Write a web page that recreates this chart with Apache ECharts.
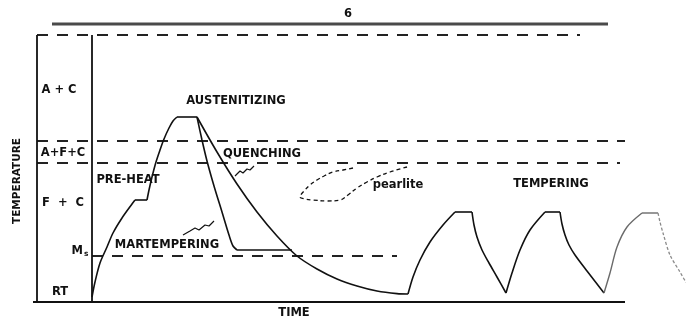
<!DOCTYPE html>
<html>
<head>
<meta charset="utf-8">
<script src="https://cdn.jsdelivr.net/npm/echarts@6/dist/echarts.min.js"></script>
<style>
  html, body { margin: 0; padding: 0; background: #fff; }
  #chart { width: 686px; height: 320px; }
</style>
</head>
<body>
<div id="chart"></div>
<script>
// Schematic heat-treatment cycle: time (arbitrary units) vs temperature (°C)
const timeRange = [-46, 297];
const tempRange = [-95, 1505];

// Phase-field boundaries and reference temperatures
const levelTop = 1330;    // upper dashed limit
const levelA3 = 800;      // A + C / A + F + C boundary
const levelA1 = 690;      // A + F + C / F + C boundary
const levelMs = 225;      // martensite start
const levelBase = -5;     // time axis
const levelBar = 1385;    // heading rule

// Horizontal extents of the frame and boundary lines (time units)
const boxLeft = -27.5;
const boxInner = 0;
const axisStart = -29.5;
const axisEnd = 266.5;
const barSpan = [-20, 258];
const topDashEnd = 244;
const a3End = 266.5;
const a1End = 264;
const msEnd = 152.5;

// Preheat then austenitize
const preheatRise = [
  [0, 20], [1.5, 95], [4, 190], [7.5, 270], [10.5, 340], [15, 415], [20, 485], [21.5, 505]
];
const preheatHold = [[21.5, 505], [27.5, 505]];
const austenitizeRise = [
  [27.5, 505], [28.5, 555], [30, 620], [32, 695], [34, 755], [36, 810],
  [38.5, 865], [40.5, 900], [42.5, 920]
];
const austenitizeHold = [[42.5, 920], [52.5, 920]];
// Direct quench to room temperature
const quenchCurve = [
  [52.5, 920], [62.5, 745], [72.5, 585], [82.5, 445], [92.5, 325], [102.5, 225],
  [112.5, 160], [122.5, 110], [132.5, 75], [142.5, 50], [152.5, 37], [158, 35]
];
// Martempering: quench into a hold just above Ms
const martemperDrop = [
  [52.5, 920], [55, 805], [57.5, 700], [61, 575], [65, 445], [68.5, 330],
  [70.5, 275], [72.5, 255]
];
const martemperHold = [[72.5, 255], [100, 255]];
// Tempering cycles: heat up, hold, cool down
const temperRise1 = [[158, 35], [160.5, 120], [164, 205], [169, 295], [175.5, 380], [181.5, 445]];
const temperHold1 = [[181.5, 445], [190, 445]];
const temperFall1 = [[190, 445], [191, 380], [192.5, 320], [195, 255], [198.5, 190], [202.5, 120], [207, 40]];
const temperRise2 = [[207, 40], [210, 140], [214, 255], [219, 355], [226.5, 445]];
const temperHold2 = [[226.5, 445], [234, 445]];
const temperFall2 = [[234, 445], [235, 385], [236.5, 330], [238.5, 280], [241.5, 230], [247.5, 150], [256, 40]];
const temperRise3 = [[256, 40], [259, 140], [262.5, 270], [267.5, 370], [275, 440]];
const temperHold3 = [[275, 440], [283, 440]];
const temperFall3 = [[283, 440], [284, 395], [285.5, 340], [289, 230], [294, 145], [297, 95], [301, 45]];
// Pearlite nose
const pearliteRegion = [
  [130.5, 665], [125.5, 655], [120.5, 645], [116, 625], [112.5, 605], [109, 580],
  [106.5, 555], [104, 520], [106.5, 510], [110.5, 505], [117.5, 500], [124, 505],
  [128, 530], [132.5, 565], [137.5, 595], [142.5, 620], [149, 645], [157.5, 670]
];
// Leader squiggles
const quenchLeader = [[71.5, 625], [74, 650], [75.5, 640], [77.5, 660], [79, 655], [81, 675]];
const martemperLeader = [[45.5, 330], [49, 350], [51.5, 365], [53.5, 355], [56.5, 380], [58.5, 375], [61, 400]];

// Text annotations: [time, temperature, text]
const annotations = [
  [128, 1435, '6'],
  [-16.5, 1055, 'A + C'],
  [-14.5, 740, 'A+F+C'],
  [-14.5, 490, 'F  +  C'],
  [-16, 45, 'RT'],
  [18, 605, 'PRE-HEAT'],
  [72, 1000, 'AUSTENITIZING'],
  [85, 735, 'QUENCHING'],
  [37.5, 280, 'MARTEMPERING'],
  [153, 580, 'pearlite'],
  [229.5, 585, 'TEMPERING'],
  [101, -60, 'TIME']
];
const msLabel = [-6, 250];
const yTitle = [-37.5, 600, 'TEMPERATURE'];

const INK = '#111';
const FONT = 'DejaVu Sans';

function path(data, style, smooth) {
  return {
    type: 'line', data: data, symbol: 'none', silent: true, animation: false,
    smooth: smooth || false,
    lineStyle: Object.assign({ color: INK, width: 1.6 }, style || {})
  };
}
const dash = { type: [11, 9], width: 1.8, color: '#222' };
const faint = { color: '#6a6a6a', width: 1.4 };

function textSeries(data, labelOpts) {
  return {
    type: 'scatter', symbolSize: 0, silent: true, animation: false,
    itemStyle: { opacity: 1 },
    data: data,
    label: Object.assign({
      show: true, position: [0, 0], align: 'center', verticalAlign: 'middle',
      color: INK, opacity: 1, textBorderWidth: 0,
      fontFamily: FONT, fontWeight: 'bold', fontSize: 11.5
    }, labelOpts)
  };
}

const series = [
  path([[barSpan[0], levelBar], [barSpan[1], levelBar]], { color: '#4a4a4a', width: 3 }),
  path([[boxLeft, levelTop], [topDashEnd, levelTop]], dash),
  path([[boxLeft, levelA3], [a3End, levelA3]], dash),
  path([[boxLeft, levelA1], [a1End, levelA1]], dash),
  path([[boxInner, levelMs], [msEnd, levelMs]], dash),
  path([[boxLeft, levelTop], [boxLeft, levelBase]], { width: 1.8 }),
  path([[boxInner, levelTop], [boxInner, levelBase]], { width: 1.8 }),
  path([[axisStart, levelBase], [axisEnd, levelBase]], { width: 2.2 }),
  path(preheatRise, null, 0.3),
  path(preheatHold),
  path(austenitizeRise, null, 0.3),
  path(austenitizeHold),
  path(quenchCurve, null, 0.3),
  path(martemperDrop, null, 0.3),
  path(martemperHold),
  path(temperRise1, null, 0.3), path(temperHold1), path(temperFall1, null, 0.3),
  path(temperRise2, null, 0.3), path(temperHold2), path(temperFall2, null, 0.3),
  path(temperRise3, faint, 0.3), path(temperHold3, faint),
  path(temperFall3, { color: '#8a8a8a', width: 1.3, type: [3, 2] }, 0.3),
  path(pearliteRegion, { type: [4, 3], width: 1.3 }, 0.4),
  path(quenchLeader, { width: 1.2 }),
  path(martemperLeader, { width: 1.2 }),
  textSeries(annotations.map(a => ({ value: [a[0], a[1]], name: a[2] })), {
    formatter: p => p.name
  }),
  textSeries([{ value: msLabel }], {
    formatter: '{m|M}{s|s}',
    rich: {
      m: { color: INK, fontFamily: FONT, fontWeight: 'bold', fontSize: 11.5 },
      s: { color: INK, fontFamily: FONT, fontWeight: 'bold', fontSize: 7.5, padding: [6, 0, 0, 1] }
    }
  }),
  textSeries([{ value: [yTitle[0], yTitle[1]], name: yTitle[2] }], {
    rotate: 90, fontSize: 10.5, formatter: p => p.name
  })
];

const chart = echarts.init(document.getElementById('chart'), null, { renderer: 'canvas' });
chart.setOption({
  animation: false,
  backgroundColor: '#fff',
  grid: { left: 0, right: 0, top: 0, bottom: 0 },
  xAxis: { type: 'value', min: timeRange[0], max: timeRange[1], show: false },
  yAxis: { type: 'value', min: tempRange[0], max: tempRange[1], show: false },
  series: series
});
</script>
</body>
</html>
